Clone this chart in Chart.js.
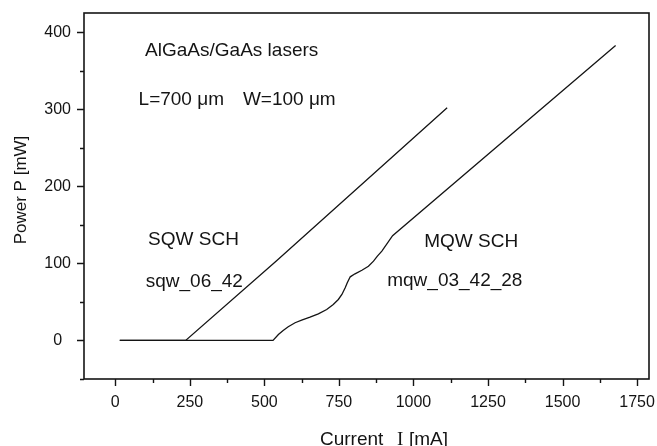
<!DOCTYPE html>
<html><head><meta charset="utf-8">
<script src="https://cdn.jsdelivr.net/npm/chart.js@4/dist/chart.umd.min.js"></script>
<style>html,body{margin:0;padding:0;background:#fff}#wrap{width:657px;height:446px}</style>
</head><body><div id="wrap"><canvas id="c" width="657" height="446"></canvas></div>
<script>
// ---- data ----
const sqwCurrent = [15, 236, 540, 1113];
const sqwPower   = [0, 0, 103, 302];
const mqwCurrent = [15, 529, 547, 563, 580, 603, 625, 653, 681, 709, 731, 748, 760, 771, 778, 788, 804, 827, 849, 866, 879, 894, 930, 1678];
const mqwPower   = [0, 0, 7.8, 13, 17.8, 23, 26.3, 30.2, 34.6, 40.2, 46.7, 53.2, 59.7, 68.4, 74.9, 82.6, 86.5, 91.2, 96.4, 102.9, 109.4, 116, 136, 382.7];
const xTickLabels = ['0', '250', '500', '750', '1000', '1250', '1500', '1750'];
const yTickLabels = ['0', '100', '200', '300', '400'];
const xTitle = ['Current', 'I', '[mA]'];
const yTitle = 'Power P [mW]';
const noteTexts = ['AlGaAs/GaAs lasers', 'L=700 \u03bcm', 'W=100 \u03bcm', 'SQW SCH', 'sqw_06_42', 'MQW SCH', 'mqw_03_42_28'];

const FONT = "'Liberation Sans', Arial, Helvetica, sans-serif";
const INK = '#141414';

const toPts = (xs, ys) => xs.map((v, i) => ({x: v, y: ys[i]}));

const decor = {
  id: 'decor',
  afterDraw(chart, args, opts) {
    const {ctx, chartArea: a, scales: {x, y}} = chart;
    ctx.save();
    ctx.strokeStyle = INK;
    // frame
    ctx.lineWidth = 1.6;
    ctx.strokeRect(a.left, a.top, a.right - a.left, a.bottom - a.top);
    // ticks (major = labelled)
    ctx.lineWidth = 1.4;
    ctx.beginPath();
    x.ticks.forEach(t => {
      const px = Math.round(x.getPixelForValue(t.value)) + 0.5;
      const len = t.label !== '' ? 7 : 4;
      ctx.moveTo(px, a.bottom); ctx.lineTo(px, a.bottom + len);
    });
    y.ticks.forEach(t => {
      const py = Math.round(y.getPixelForValue(t.value)) + 0.5;
      const len = t.label !== '' ? 7 : 4;
      ctx.moveTo(a.left, py); ctx.lineTo(a.left - len, py);
    });
    ctx.stroke();
    // axis titles
    ctx.fillStyle = INK;
    ctx.textBaseline = 'alphabetic';
    ctx.textAlign = 'left';
    const ty = opts.xTitleBase;
    ctx.font = '19px ' + FONT;
    ctx.fillText(xTitle[0], opts.xTitleX[0], ty);
    ctx.font = "19px 'Liberation Serif', 'Times New Roman', serif";
    ctx.fillText(xTitle[1], opts.xTitleX[1], ty);
    ctx.font = '19px ' + FONT;
    ctx.fillText(xTitle[2], opts.xTitleX[2], ty);
    ctx.save();
    ctx.translate(opts.yTitleX, opts.yTitleY);
    ctx.rotate(-Math.PI / 2);
    ctx.textAlign = 'center';
    ctx.textBaseline = 'middle';
    ctx.font = '17px ' + FONT;
    ctx.fillText(yTitle, 0, 0);
    ctx.restore();
    // annotations, anchored in data units
    ctx.font = '19px ' + FONT;
    ctx.textAlign = 'left';
    ctx.textBaseline = 'alphabetic';
    opts.notes.forEach((n, i) => {
      ctx.fillText(noteTexts[i], x.getPixelForValue(n[0]), y.getPixelForValue(n[1]));
    });
    ctx.restore();
  }
};

const lineStyle = {borderColor: INK, borderWidth: 1.3, pointRadius: 0, tension: 0, fill: false};

new Chart(document.getElementById('c'), {
  type: 'scatter',
  data: {
    datasets: [
      Object.assign({label: 'SQW SCH', data: toPts(sqwCurrent, sqwPower), showLine: true}, lineStyle),
      Object.assign({label: 'MQW SCH', data: toPts(mqwCurrent, mqwPower), showLine: true}, lineStyle)
    ]
  },
  options: {
    responsive: false,
    animation: false,
    devicePixelRatio: 1,
    layout: {padding: {top: 13, right: 8, left: 0, bottom: 0}},
    plugins: {
      legend: {display: false},
      tooltip: {enabled: false},
      decor: {
        xTitleX: [320, 397, 409], xTitleBase: 445,
        yTitleX: 21, yTitleY: 190,
        notes: [[100, 369], [78, 305], [428, 305], [110, 124.5], [102, 70], [1036, 120.7], [912, 70.5]]
      }
    },
    scales: {
      x: {
        type: 'linear', min: -105, max: 1790,
        border: {display: false},
        grid: {display: true, drawOnChartArea: false, tickLength: 7, color: 'transparent', tickColor: 'transparent'},
        ticks: {
          stepSize: 125, includeBounds: false, autoSkip: false, maxRotation: 0, padding: 7,
          color: INK, font: {family: FONT, size: 16},
          callback: v => xTickLabels.includes(String(v)) ? String(v) : ''
        },
        afterFit: s => { s.height = 67; s.paddingLeft = 0; s.paddingRight = 0; }
      },
      y: {
        type: 'linear', min: -50, max: 425,
        border: {display: false},
        grid: {display: true, drawOnChartArea: false, tickLength: 7, color: 'transparent', tickColor: 'transparent'},
        ticks: {
          stepSize: 50, includeBounds: false, autoSkip: false, padding: 6, crossAlign: 'center',
          color: INK, font: {family: FONT, size: 16},
          callback: v => yTickLabels.includes(String(v)) ? String(v) : ''
        },
        afterFit: s => { s.width = 84; s.paddingTop = 0; s.paddingBottom = 0; }
      }
    }
  },
  plugins: [decor]
});
</script></body></html>
